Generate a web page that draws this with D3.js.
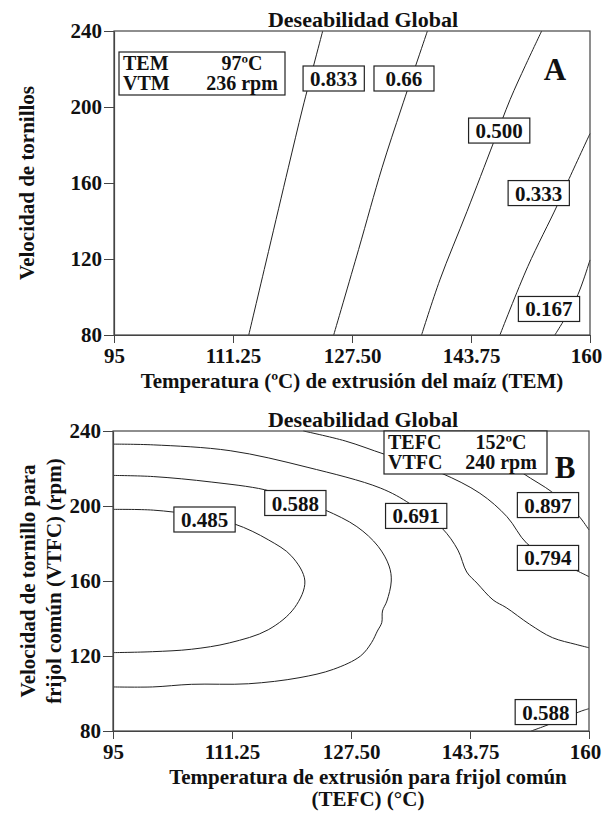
<!DOCTYPE html>
<html>
<head>
<meta charset="utf-8">
<script src="https://cdn.jsdelivr.net/npm/d3@7"></script>
<style>
  body { margin: 0; background: #fff; }
  svg text { font-family: "Liberation Serif", "Times New Roman", serif; font-weight: bold; fill: #111; }
</style>
</head>
<body>
<div id="chart"></div>
<script>
// ejes compartidos
const xTicks = [95, 111.25, 127.5, 143.75, 160];
const xTickLabels = ["95", "111.25", "127.50", "143.75", "160"];
const yTicks = [80, 120, 160, 200, 240];

// panel A: curvas de nivel (temperatura, velocidad)
const a0833 = [[123.5, 240], [120.8, 200], [118.8, 168], [116.1, 124], [113.4, 80]];
const a0660 = [[137.8, 240], [134.3, 200], [131.6, 168], [128.4, 125], [125.0, 80]];
const a0500 = [[153.4, 240], [151.2, 222], [149.1, 204], [146.8, 181], [143.2, 145], [139.5, 109], [137.0, 80]];
const a0333 = [[160, 186], [157.0, 161], [155.5, 148], [151.5, 116], [147.7, 80]];
const a0167 = [[160, 119.5], [158.2, 100], [155.2, 80]];
const levelsA = ["0.833", "0.66", "0.500", "0.333", "0.167"];
const labelAtA = [[125.0, 215.0], [134.6, 215.0], [147.6, 187.6], [153.0, 154.7], [154.4, 93.7]];

// panel B
const b0485 = [[95, 198.2], [100.5, 197.8], [106, 195.2], [111.6, 190.4], [116.2, 182], [119.4, 173.2], [121.2, 160],
  [119.8, 145.8], [116.2, 134], [110.9, 127], [105.7, 123.6], [100.4, 122.3], [95, 121.8]];
const b0588 = [[95, 216.3], [100.5, 215.7], [108.4, 212.8], [115.7, 208.7], [120, 203.5], [124, 197.8], [128.3, 189],
  [131.2, 178.5], [132.7, 168], [133, 160], [132.4, 149.3], [131.8, 144], [131.7, 137.8], [131.1, 133.3], [130.3, 127.1],
  [128.8, 120], [125.1, 112.9], [120.4, 108.4], [113.5, 105.2], [105.7, 104.9], [100.4, 103.5], [95, 103.5]];
const b0691 = [[95, 233], [100.5, 232.6], [111, 229.5], [121.5, 220.7], [131.5, 209.6], [135.6, 201.1], [139.9, 188.3],
  [142.1, 176.5], [143.3, 164.8], [144.7, 158.9], [146.9, 149.9], [148.7, 145.8], [151.9, 136.9], [155, 129.8],
  [158.2, 126.2], [160, 124.4]];
const b0794 = [[121, 240], [126.7, 234.7], [132, 227.7], [136, 222.8], [139.9, 217.4], [145.1, 206.8], [148.8, 194.3],
  [151.5, 180.1], [155, 171.5], [158.6, 165], [160, 162.3]];
const b0897 = [[143, 240], [147, 229], [151, 217.4], [154.9, 207.6], [156.8, 201], [158.6, 194.7], [160, 187.2]];
const b0588low = [[152.1, 80], [154, 82.7], [159, 90.7], [160, 91.9]];
const levelsB = ["0.485", "0.588", "0.691", "0.897", "0.794", "0.588"];
const labelAtB = [[107.5, 192.8], [119.9, 201.6], [136.4, 194.7], [154.4, 200.5], [154.4, 172.3], [154.1, 90.1]];

const svg = d3.select("#chart").append("svg")
  .attr("width", 602)
  .attr("height", 813);

const drawPanel = (cfg) => {
  const x = d3.scaleLinear().domain([95, 160]).range([cfg.left, cfg.right]);
  const y = d3.scaleLinear().domain([80, 240]).range([cfg.bottom, cfg.top]);
  const g = svg.append("g");

  const line = d3.line()
    .x(d => x(d[0]))
    .y(d => y(d[1]))
    .curve(d3.curveCatmullRom.alpha(0.5));

  g.selectAll(".contour")
    .data(cfg.lines).enter()
    .append("path")
    .attr("d", line)
    .attr("fill", "none")
    .attr("stroke", "#222")
    .attr("stroke-width", 1);

  // marco
  g.append("rect")
    .attr("x", cfg.left).attr("y", cfg.top)
    .attr("width", cfg.right - cfg.left).attr("height", cfg.bottom - cfg.top)
    .attr("fill", "none").attr("stroke", "#444").attr("stroke-width", 1.2);

  const xAxis = g.append("g")
    .attr("transform", `translate(0,${cfg.bottom})`)
    .call(d3.axisBottom(x).tickValues(xTicks).tickFormat((d, i) => xTickLabels[i]).tickSize(8).tickSizeOuter(0).tickPadding(5));
  const yAxis = g.append("g")
    .attr("transform", `translate(${cfg.left},0)`)
    .call(d3.axisLeft(y).tickValues(yTicks).tickSize(10).tickSizeOuter(0).tickPadding(2));
  [xAxis, yAxis].forEach(ax => {
    ax.select(".domain").attr("stroke", "#444").attr("stroke-width", 1.2);
    ax.selectAll(".tick line").attr("stroke", "#444");
    ax.selectAll("text").attr("font-size", 21).attr("fill", "#111")
      .attr("font-family", "Liberation Serif").attr("font-weight", "bold");
  });
  // el 160 queda pegado al borde derecho
  xAxis.selectAll(".tick text").filter(d => d === 160).attr("dx", -4);

  // etiquetas de nivel
  const labels = g.selectAll(".lvl")
    .data(cfg.levels).enter()
    .append("g")
    .attr("transform", (d, i) => `translate(${x(cfg.labelAt[i][0])},${y(cfg.labelAt[i][1])})`);
  labels.each(function (d) {
    const lg = d3.select(this);
    const r = lg.append("rect").attr("fill", "#fff").attr("stroke", "#222").attr("stroke-width", 1.2);
    const t = lg.append("text").attr("text-anchor", "middle").attr("y", 7.5).attr("font-size", 21).text(d);
    const w = Math.max(t.node().getComputedTextLength() + 14, 60);
    r.attr("x", -w / 2).attr("y", -12.5).attr("width", w).attr("height", 25);
  });

  // cuadro de condiciones
  const info = g.append("g").attr("transform", `translate(${cfg.info.x},${cfg.info.y})`);
  info.append("rect").attr("width", cfg.info.w).attr("height", cfg.info.h)
    .attr("fill", "#fff").attr("stroke", "#222").attr("stroke-width", 1.2);
  cfg.info.rows.forEach((row, i) => {
    info.append("text").attr("x", 4).attr("y", 18 + i * 20).attr("font-size", 20).text(row[0]);
    info.append("text").attr("x", cfg.info.valX).attr("y", 18 + i * 20).attr("font-size", 20)
      .attr("text-anchor", "middle").text(row[1]);
  });

  g.append("text").attr("x", cfg.letter[0]).attr("y", cfg.letter[1])
    .attr("text-anchor", "middle").attr("font-size", 31).text(cfg.letterText);

  g.append("text").attr("x", 363).attr("y", cfg.top - 4)
    .attr("text-anchor", "middle").attr("font-size", 22).text("Deseabilidad Global");

  cfg.xLabel.forEach((s, i) => {
    g.append("text").attr("x", cfg.xLabelX).attr("y", cfg.bottom + 53 + i * 22)
      .attr("text-anchor", "middle").attr("font-size", 21).text(s);
  });
  cfg.yLabel.forEach((s, i) => {
    g.append("text")
      .attr("transform", `translate(${cfg.yLabelX + i * 26},${(cfg.top + cfg.bottom) / 2}) rotate(-90)`)
      .attr("text-anchor", "middle").attr("font-size", 21).text(s);
  });
};

drawPanel({
  left: 114, right: 590, top: 31, bottom: 335,
  lines: [a0833, a0660, a0500, a0333, a0167],
  levels: levelsA, labelAt: labelAtA,
  info: { x: 119, y: 52, w: 166, h: 43, valX: 123, rows: [["TEM", "97ºC"], ["VTM", "236 rpm"]] },
  letter: [555, 80], letterText: "A",
  xLabel: ["Temperatura (ºC) de extrusión del maíz (TEM)"], xLabelX: 352,
  yLabel: ["Velocidad de tornillos"], yLabelX: 34
});

drawPanel({
  left: 113, right: 589, top: 431, bottom: 731,
  lines: [b0485, b0588, b0691, b0794, b0897, b0588low],
  levels: levelsB, labelAt: labelAtB,
  info: { x: 384, y: 431, w: 163, h: 43, valX: 117, rows: [["TEFC", "152ºC"], ["VTFC", "240 rpm"]] },
  letter: [565, 478], letterText: "B",
  xLabel: ["Temperatura de extrusión para frijol común", "(TEFC) (°C)"], xLabelX: 368,
  yLabel: ["Velocidad de tornillo para", "frijol común (VTFC) (rpm)"], yLabelX: 35
});
</script>
</body>
</html>
